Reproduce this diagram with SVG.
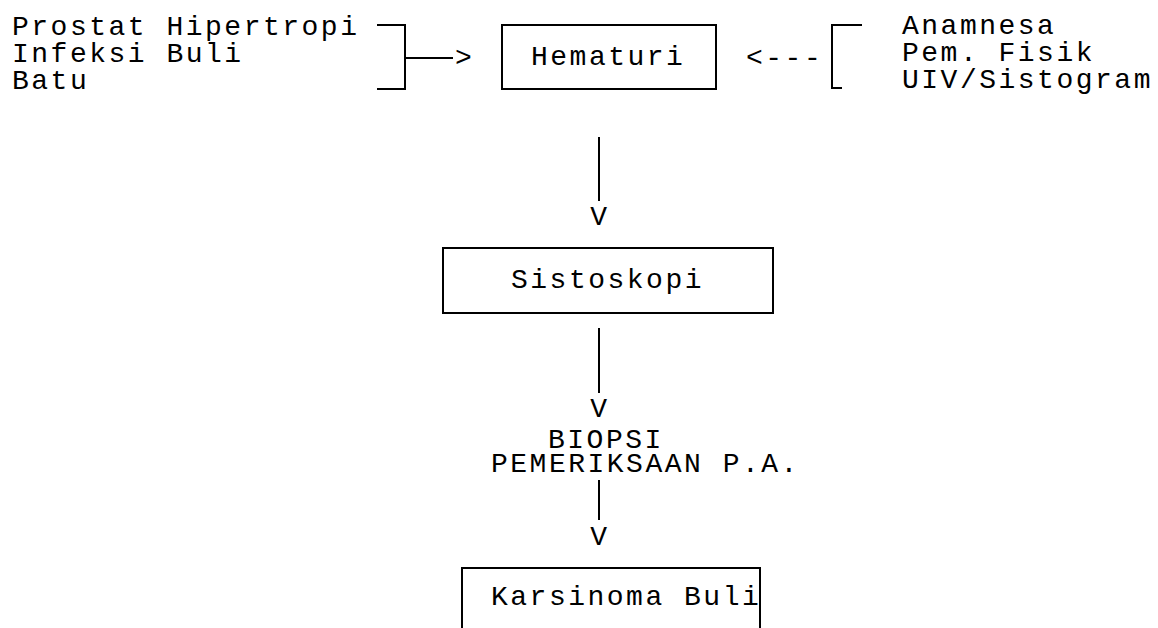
<svg xmlns="http://www.w3.org/2000/svg" width="1158" height="628" viewBox="0 0 1158 628">
<style>
text{font-family:"Liberation Mono","DejaVu Sans Mono",monospace;font-size:28px;letter-spacing:2.5px;fill:#000}
.box{fill:none;stroke:#000;stroke-width:2}
.ln{fill:none;stroke:#000;stroke-width:2}
.mid{text-anchor:middle}
</style>
<rect width="1158" height="628" fill="#fff"/>
<g id="causes">
<text x="12" y="35">Prostat Hipertropi</text>
<text x="12" y="62">Infeksi Buli</text>
<text x="12" y="89">Batu</text>
</g>
<g id="exams">
<text x="902" y="34">Anamnesa</text>
<text x="902" y="61">Pem. Fisik</text>
<text x="902" y="88">UIV/Sistogram</text>
</g>
<g id="hematuri">
<rect class="box" x="502" y="25" width="214" height="64"/>
<text x="531" y="65">Hematuri</text>
</g>
<g id="sistoskopi">
<rect class="box" x="443" y="248" width="330" height="65"/>
<text x="511" y="288">Sistoskopi</text>
</g>
<g id="biopsi">
<text x="548" y="448">BIOPSI</text>
<text x="491" y="472">PEMERIKSAAN P.A.</text>
</g>
<g id="karsinoma">
<path class="box" d="M462,640 V568 H760 V640"/>
<text x="491" y="605">Karsinoma Buli</text>
</g>
<g id="connectors">
<path class="ln" d="M377,25 H405 V89 H377 M405,58 H453"/>
<text x="455" y="66">&gt;</text>
<text x="746" y="66">&lt;---</text>
<path class="ln" d="M862,25 H832 V88 H842"/>
<path class="ln" d="M599,137 V201 M599,328 V393 M599,480 V520"/>
<text class="mid" x="600" y="225">V</text>
<text class="mid" x="600" y="417">V</text>
<text class="mid" x="600" y="545">V</text>
</g>
</svg>
